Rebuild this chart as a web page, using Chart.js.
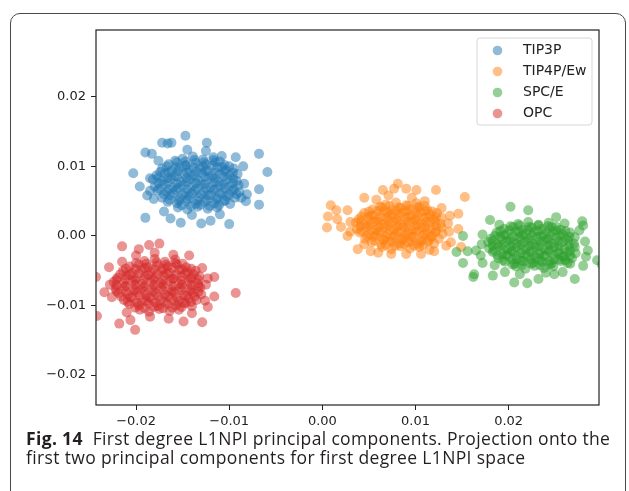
<!DOCTYPE html>
<html>
<head>
<meta charset="utf-8">
<script src="https://cdn.jsdelivr.net/npm/chart.js@4"></script>
<style>
  html, body { margin: 0; padding: 0; background: #fff; overflow: hidden; }
  body { width: 629px; height: 491px; position: relative; }
  #frame {
    position: absolute; left: 10px; top: 13px; width: 616px; height: 600px;
    border: 1.3px solid #4a4a4a; border-radius: 10px; box-sizing: border-box;
  }
  #wrap { position: absolute; left: 0; top: 0; width: 629px; height: 440px; }
  #caption {
    position: absolute; left: 26px; top: 429px; white-space: nowrap;
    font-family: "Open Sans", "Noto Sans", sans-serif; font-size: 17.5px;
    letter-spacing: 0.35px; line-height: 18.5px; color: #231f20;
  }
  #caption b { font-weight: 700; }
</style>
</head>
<body>
<div id="frame"></div>
<div id="wrap"><canvas id="chart"></canvas></div>
<div id="caption"><b>Fig. 14</b>&nbsp; First degree L1NPI principal components. Projection onto the<br>first two principal components for first degree L1NPI space</div>
<script>
// series names and colours (matplotlib tab10)
const CATEGORIES = ["TIP3P", "TIP4P/Ew", "SPC/E", "OPC"];
const COLORS = ["31,119,180", "255,127,14", "44,160,44", "214,39,40"];

// axis ticks
const X_TICKS = [-0.02, -0.01, 0.0, 0.01, 0.02];
const Y_TICKS = [-0.02, -0.01, 0.0, 0.01, 0.02];
const X_MIN = -0.0243, X_MAX = 0.0297;
const Y_MIN = -0.0243, Y_MAX = 0.0296;

// [pc1, pc2]
const TIP3P = [
  [-0.0150,0.0111],[-0.0139,0.0114],[-0.0128,0.0110],[-0.0117,0.0113],
  [-0.0165,0.0103],[-0.0156,0.0106],[-0.0146,0.0102],[-0.0136,0.0105],[-0.0125,0.0103],[-0.0115,0.0106],[-0.0105,0.0102],
  [-0.0172,0.0097],[-0.0162,0.0094],[-0.0153,0.0098],[-0.0143,0.0095],[-0.0132,0.0097],[-0.0123,0.0094],[-0.0113,0.0098],[-0.0104,0.0095],[-0.0095,0.0097],
  [-0.0178,0.0087],[-0.0169,0.0090],[-0.0159,0.0086],[-0.0149,0.0089],[-0.0139,0.0087],[-0.0129,0.0090],[-0.0119,0.0086],[-0.0110,0.0089],[-0.0100,0.0087],[-0.0091,0.0089],
  [-0.0182,0.0081],[-0.0172,0.0079],[-0.0162,0.0082],[-0.0152,0.0078],[-0.0142,0.0081],[-0.0132,0.0079],[-0.0122,0.0082],[-0.0112,0.0078],[-0.0102,0.0081],[-0.0092,0.0079],
  [-0.0180,0.0071],[-0.0170,0.0074],[-0.0160,0.0070],[-0.0150,0.0073],[-0.0140,0.0071],[-0.0130,0.0074],[-0.0120,0.0070],[-0.0110,0.0073],[-0.0100,0.0071],[-0.0090,0.0073],
  [-0.0177,0.0065],[-0.0167,0.0063],[-0.0157,0.0066],[-0.0147,0.0062],[-0.0137,0.0065],[-0.0127,0.0063],[-0.0117,0.0066],[-0.0107,0.0062],[-0.0097,0.0065],[-0.0089,0.0063],
  [-0.0172,0.0055],[-0.0163,0.0058],[-0.0153,0.0054],[-0.0143,0.0057],[-0.0133,0.0055],[-0.0123,0.0058],[-0.0113,0.0054],[-0.0103,0.0057],[-0.0094,0.0055],
  [-0.0166,0.0049],[-0.0156,0.0047],[-0.0146,0.0050],[-0.0136,0.0046],[-0.0126,0.0049],[-0.0116,0.0047],[-0.0106,0.0050],[-0.0099,0.0046],
  [-0.0155,0.0041],[-0.0145,0.0038],[-0.0134,0.0042],[-0.0123,0.0039],[-0.0113,0.0041],
  [-0.0158,0.0108],[-0.0147,0.0107],[-0.0137,0.0109],[-0.0127,0.0106],[-0.0117,0.0109],[-0.0110,0.0107],
  [-0.0167,0.0100],[-0.0157,0.0099],[-0.0147,0.0101],[-0.0138,0.0098],[-0.0128,0.0100],[-0.0118,0.0101],[-0.0108,0.0099],[-0.0100,0.0100],
  [-0.0174,0.0092],[-0.0165,0.0091],[-0.0155,0.0093],[-0.0145,0.0091],[-0.0135,0.0092],[-0.0125,0.0093],[-0.0115,0.0091],[-0.0105,0.0093],[-0.0096,0.0091],
  [-0.0176,0.0084],[-0.0166,0.0083],[-0.0156,0.0085],[-0.0146,0.0083],[-0.0136,0.0084],[-0.0126,0.0085],[-0.0116,0.0083],[-0.0106,0.0085],[-0.0096,0.0083],
  [-0.0176,0.0076],[-0.0166,0.0077],[-0.0156,0.0075],[-0.0146,0.0077],[-0.0136,0.0076],[-0.0126,0.0075],[-0.0116,0.0077],[-0.0106,0.0075],[-0.0096,0.0076],
  [-0.0175,0.0068],[-0.0165,0.0067],[-0.0155,0.0069],[-0.0145,0.0067],[-0.0135,0.0068],[-0.0125,0.0069],[-0.0115,0.0067],[-0.0105,0.0069],[-0.0095,0.0067],
  [-0.0170,0.0060],[-0.0160,0.0061],[-0.0150,0.0059],[-0.0140,0.0061],[-0.0130,0.0060],[-0.0120,0.0059],[-0.0110,0.0061],[-0.0100,0.0059],[-0.0092,0.0060],
  [-0.0164,0.0052],[-0.0154,0.0051],[-0.0144,0.0053],[-0.0134,0.0051],[-0.0124,0.0052],[-0.0114,0.0053],[-0.0104,0.0051],
  [-0.0151,0.0044],[-0.0141,0.0043],[-0.0131,0.0045],[-0.0121,0.0043],[-0.0111,0.0044],
  [-0.0185,0.0083],[-0.0185,0.0065],[-0.0176,0.0108],[-0.0108,0.0115],[-0.0085,0.0100],[-0.0084,0.0075],
  [-0.0087,0.0055],[-0.0170,0.0035],[-0.0140,0.0030],[-0.0110,0.0031],[-0.0125,0.0122],[-0.0145,0.0124],
  [-0.0147,0.0144],[-0.0172,0.0134],[-0.0166,0.0133],[-0.0162,0.0134],[-0.0124,0.0134],[-0.0190,0.0120],
  [-0.0183,0.0118],[-0.0068,0.0118],[-0.0059,0.0092],[-0.0203,0.0090],[-0.0196,0.0071],[-0.0188,0.0058],
  [-0.0181,0.0053],[-0.0068,0.0067],[-0.0068,0.0045],[-0.0190,0.0026],[-0.0163,0.0025],[-0.0152,0.0019],
  [-0.0130,0.0018],[-0.0120,0.0022],[-0.0100,0.0017],[-0.0082,0.0050],[-0.0081,0.0060],[-0.0093,0.0113]
];

const TIP4P_EW = [
  [0.0068,0.0045],[0.0079,0.0048],[0.0090,0.0044],[0.0101,0.0047],
  [0.0054,0.0038],[0.0064,0.0041],[0.0074,0.0037],[0.0084,0.0040],[0.0094,0.0038],[0.0104,0.0041],[0.0113,0.0037],
  [0.0045,0.0033],[0.0055,0.0030],[0.0065,0.0034],[0.0075,0.0031],[0.0085,0.0033],[0.0095,0.0030],[0.0105,0.0034],[0.0115,0.0031],[0.0123,0.0033],
  [0.0039,0.0024],[0.0049,0.0027],[0.0059,0.0023],[0.0069,0.0026],[0.0079,0.0024],[0.0089,0.0027],[0.0099,0.0023],[0.0109,0.0026],[0.0119,0.0024],[0.0128,0.0026],
  [0.0036,0.0019],[0.0046,0.0016],[0.0056,0.0020],[0.0066,0.0017],[0.0076,0.0019],[0.0086,0.0016],[0.0096,0.0020],[0.0106,0.0017],[0.0116,0.0019],[0.0127,0.0017],
  [0.0037,0.0010],[0.0047,0.0013],[0.0057,0.0009],[0.0067,0.0012],[0.0077,0.0010],[0.0087,0.0013],[0.0097,0.0009],[0.0107,0.0012],[0.0117,0.0010],[0.0128,0.0012],
  [0.0040,0.0005],[0.0050,0.0002],[0.0060,0.0006],[0.0070,0.0003],[0.0080,0.0005],[0.0090,0.0002],[0.0100,0.0006],[0.0110,0.0003],[0.0121,0.0005],[0.0129,0.0003],
  [0.0046,-0.0004],[0.0056,-0.0001],[0.0066,-0.0005],[0.0076,-0.0002],[0.0086,-0.0004],[0.0096,-0.0001],[0.0106,-0.0005],[0.0116,-0.0002],[0.0125,-0.0004],
  [0.0053,-0.0009],[0.0063,-0.0012],[0.0073,-0.0008],[0.0083,-0.0011],[0.0093,-0.0009],[0.0103,-0.0012],[0.0113,-0.0008],[0.0120,-0.0011],
  [0.0064,-0.0016],[0.0074,-0.0019],[0.0084,-0.0015],[0.0094,-0.0018],[0.0104,-0.0016],
  [0.0062,0.0042],[0.0072,0.0043],[0.0082,0.0041],[0.0092,0.0043],[0.0102,0.0042],[0.0110,0.0043],
  [0.0050,0.0035],[0.0060,0.0036],[0.0070,0.0034],[0.0080,0.0036],[0.0090,0.0035],[0.0100,0.0034],[0.0110,0.0036],[0.0118,0.0035],
  [0.0042,0.0028],[0.0052,0.0029],[0.0062,0.0027],[0.0072,0.0029],[0.0082,0.0028],[0.0092,0.0027],[0.0102,0.0029],[0.0112,0.0027],[0.0122,0.0028],
  [0.0041,0.0021],[0.0051,0.0022],[0.0061,0.0020],[0.0071,0.0022],[0.0081,0.0021],[0.0091,0.0020],[0.0101,0.0022],[0.0111,0.0020],[0.0121,0.0021],
  [0.0041,0.0014],[0.0051,0.0015],[0.0061,0.0013],[0.0071,0.0015],[0.0081,0.0014],[0.0091,0.0013],[0.0101,0.0015],[0.0111,0.0013],[0.0122,0.0014],
  [0.0042,0.0007],[0.0052,0.0008],[0.0062,0.0006],[0.0072,0.0008],[0.0082,0.0007],[0.0092,0.0006],[0.0102,0.0008],[0.0112,0.0006],[0.0122,0.0007],
  [0.0048,0.0000],[0.0058,0.0001],[0.0068,-0.0001],[0.0078,0.0001],[0.0088,0.0000],[0.0098,-0.0001],[0.0108,0.0001],[0.0118,0.0000],
  [0.0056,-0.0007],[0.0066,-0.0006],[0.0076,-0.0008],[0.0086,-0.0006],[0.0096,-0.0007],[0.0106,-0.0008],[0.0115,-0.0006],
  [0.0068,-0.0013],[0.0078,-0.0014],[0.0088,-0.0012],[0.0098,-0.0014],[0.0108,-0.0013],
  [0.0058,0.0052],[0.0096,0.0055],[0.0110,0.0050],[0.0030,0.0020],[0.0030,0.0006],[0.0135,0.0018],
  [0.0136,0.0006],[0.0045,-0.0012],[0.0060,-0.0024],[0.0115,-0.0020],[0.0071,0.0058],[0.0128,0.0040],
  [0.0081,0.0075],[0.0065,0.0066],[0.0077,0.0068],[0.0090,0.0068],[0.0101,0.0066],[0.0122,0.0066],
  [0.0153,0.0056],[0.0045,0.0055],[0.0009,0.0044],[0.0015,0.0037],[0.0027,0.0037],[0.0006,0.0028],
  [0.0005,0.0012],[0.0016,0.0024],[0.0020,0.0013],[0.0027,0.0000],[0.0038,-0.0019],[0.0052,-0.0022],
  [0.0074,-0.0026],[0.0090,-0.0026],[0.0106,-0.0026],[0.0120,-0.0022],[0.0137,0.0029],[0.0146,0.0032],
  [0.0146,0.0010],[0.0138,-0.0009],[0.0149,-0.0016],[0.0133,-0.0014]
];

const SPC_E = [
  [0.0210,0.0017],[0.0221,0.0020],[0.0232,0.0016],[0.0243,0.0019],
  [0.0195,0.0010],[0.0205,0.0013],[0.0215,0.0009],[0.0225,0.0012],[0.0236,0.0010],[0.0246,0.0013],[0.0256,0.0009],
  [0.0187,0.0005],[0.0197,0.0002],[0.0207,0.0006],[0.0217,0.0003],[0.0227,0.0005],[0.0237,0.0002],[0.0247,0.0006],[0.0257,0.0003],[0.0266,0.0005],
  [0.0181,-0.0004],[0.0191,-0.0001],[0.0201,-0.0005],[0.0211,-0.0002],[0.0221,-0.0004],[0.0231,-0.0001],[0.0241,-0.0005],[0.0251,-0.0002],[0.0261,-0.0004],[0.0271,-0.0002],
  [0.0178,-0.0009],[0.0188,-0.0012],[0.0198,-0.0008],[0.0208,-0.0011],[0.0218,-0.0009],[0.0228,-0.0012],[0.0238,-0.0008],[0.0248,-0.0011],[0.0258,-0.0009],[0.0270,-0.0011],
  [0.0179,-0.0018],[0.0189,-0.0015],[0.0199,-0.0019],[0.0209,-0.0016],[0.0219,-0.0018],[0.0229,-0.0015],[0.0239,-0.0019],[0.0249,-0.0016],[0.0260,-0.0018],[0.0271,-0.0016],
  [0.0183,-0.0023],[0.0193,-0.0026],[0.0203,-0.0022],[0.0213,-0.0025],[0.0223,-0.0023],[0.0233,-0.0026],[0.0243,-0.0022],[0.0253,-0.0025],[0.0263,-0.0023],[0.0272,-0.0025],
  [0.0189,-0.0032],[0.0199,-0.0029],[0.0209,-0.0033],[0.0219,-0.0030],[0.0229,-0.0032],[0.0239,-0.0029],[0.0249,-0.0033],[0.0259,-0.0030],[0.0268,-0.0032],
  [0.0196,-0.0037],[0.0206,-0.0040],[0.0216,-0.0036],[0.0226,-0.0039],[0.0236,-0.0037],[0.0246,-0.0040],[0.0256,-0.0036],[0.0263,-0.0039],
  [0.0208,-0.0044],[0.0218,-0.0047],[0.0228,-0.0043],[0.0238,-0.0046],[0.0248,-0.0044],
  [0.0202,0.0014],[0.0212,0.0015],[0.0222,0.0013],[0.0232,0.0015],[0.0242,0.0014],[0.0251,0.0013],
  [0.0191,0.0007],[0.0201,0.0008],[0.0211,0.0006],[0.0221,0.0008],[0.0231,0.0007],[0.0241,0.0006],[0.0251,0.0008],[0.0261,0.0007],
  [0.0185,0.0000],[0.0195,0.0001],[0.0205,-0.0001],[0.0215,0.0001],[0.0225,0.0000],[0.0235,-0.0001],[0.0245,0.0001],[0.0255,0.0000],[0.0265,-0.0001],
  [0.0183,-0.0007],[0.0193,-0.0006],[0.0203,-0.0008],[0.0213,-0.0006],[0.0223,-0.0007],[0.0233,-0.0008],[0.0243,-0.0006],[0.0253,-0.0008],[0.0264,-0.0007],
  [0.0183,-0.0014],[0.0193,-0.0013],[0.0203,-0.0015],[0.0213,-0.0013],[0.0223,-0.0014],[0.0233,-0.0015],[0.0243,-0.0013],[0.0254,-0.0015],[0.0265,-0.0014],
  [0.0184,-0.0021],[0.0194,-0.0020],[0.0204,-0.0022],[0.0214,-0.0020],[0.0224,-0.0021],[0.0234,-0.0022],[0.0244,-0.0020],[0.0254,-0.0022],[0.0266,-0.0021],
  [0.0188,-0.0028],[0.0198,-0.0027],[0.0208,-0.0029],[0.0218,-0.0027],[0.0228,-0.0028],[0.0238,-0.0029],[0.0248,-0.0027],[0.0258,-0.0029],[0.0266,-0.0028],
  [0.0194,-0.0035],[0.0204,-0.0034],[0.0214,-0.0036],[0.0224,-0.0034],[0.0234,-0.0035],[0.0244,-0.0036],[0.0254,-0.0034],[0.0261,-0.0035],
  [0.0204,-0.0041],[0.0214,-0.0042],[0.0224,-0.0040],[0.0234,-0.0042],[0.0244,-0.0041],
  [0.0190,0.0016],[0.0260,0.0018],[0.0276,0.0008],[0.0172,0.0002],[0.0170,-0.0028],[0.0282,-0.0008],
  [0.0283,-0.0030],[0.0185,-0.0042],[0.0212,-0.0055],[0.0240,-0.0053],[0.0300,-0.0041],[0.0303,-0.0036],
  [0.0202,0.0042],[0.0221,0.0037],[0.0180,0.0023],[0.0279,0.0021],[0.0280,0.0015],[0.0251,0.0027],
  [0.0151,0.0000],[0.0144,-0.0023],[0.0156,-0.0022],[0.0165,-0.0021],[0.0171,-0.0012],[0.0285,-0.0021],
  [0.0295,-0.0035],[0.0280,-0.0043],[0.0151,-0.0039],[0.0172,-0.0039],[0.0163,-0.0055],[0.0162,-0.0059],
  [0.0183,-0.0057],[0.0196,-0.0052],[0.0206,-0.0067],[0.0220,-0.0068],[0.0232,-0.0062],[0.0249,-0.0055],
  [0.0258,-0.0052],[0.0271,-0.0062],[0.0266,-0.0040]
];

const OPC = [
  [-0.0191,-0.0036],[-0.0180,-0.0033],[-0.0169,-0.0037],[-0.0158,-0.0034],
  [-0.0207,-0.0044],[-0.0197,-0.0041],[-0.0187,-0.0045],[-0.0177,-0.0042],[-0.0166,-0.0044],[-0.0156,-0.0041],[-0.0146,-0.0045],
  [-0.0214,-0.0050],[-0.0204,-0.0053],[-0.0194,-0.0049],[-0.0184,-0.0052],[-0.0173,-0.0050],[-0.0164,-0.0053],[-0.0154,-0.0049],[-0.0145,-0.0052],[-0.0136,-0.0050],
  [-0.0220,-0.0060],[-0.0210,-0.0057],[-0.0200,-0.0061],[-0.0190,-0.0058],[-0.0180,-0.0060],[-0.0170,-0.0057],[-0.0160,-0.0061],[-0.0151,-0.0058],[-0.0141,-0.0060],[-0.0132,-0.0058],
  [-0.0224,-0.0066],[-0.0214,-0.0068],[-0.0204,-0.0065],[-0.0194,-0.0069],[-0.0184,-0.0066],[-0.0174,-0.0068],[-0.0164,-0.0065],[-0.0154,-0.0069],[-0.0144,-0.0066],[-0.0134,-0.0068],
  [-0.0222,-0.0076],[-0.0212,-0.0073],[-0.0202,-0.0077],[-0.0192,-0.0074],[-0.0182,-0.0076],[-0.0172,-0.0073],[-0.0162,-0.0077],[-0.0152,-0.0074],[-0.0142,-0.0076],[-0.0131,-0.0074],
  [-0.0219,-0.0082],[-0.0209,-0.0084],[-0.0199,-0.0081],[-0.0189,-0.0085],[-0.0179,-0.0082],[-0.0169,-0.0084],[-0.0159,-0.0081],[-0.0149,-0.0085],[-0.0139,-0.0082],[-0.0130,-0.0084],
  [-0.0213,-0.0092],[-0.0204,-0.0089],[-0.0194,-0.0093],[-0.0184,-0.0090],[-0.0174,-0.0092],[-0.0164,-0.0089],[-0.0154,-0.0093],[-0.0144,-0.0090],[-0.0135,-0.0092],
  [-0.0207,-0.0098],[-0.0197,-0.0100],[-0.0187,-0.0097],[-0.0177,-0.0101],[-0.0167,-0.0098],[-0.0157,-0.0100],[-0.0147,-0.0097],[-0.0140,-0.0101],
  [-0.0196,-0.0106],[-0.0186,-0.0109],[-0.0175,-0.0105],[-0.0164,-0.0108],[-0.0154,-0.0106],
  [-0.0200,-0.0039],[-0.0189,-0.0040],[-0.0178,-0.0038],[-0.0168,-0.0041],[-0.0158,-0.0039],[-0.0150,-0.0040],
  [-0.0211,-0.0047],[-0.0201,-0.0048],[-0.0191,-0.0046],[-0.0181,-0.0048],[-0.0171,-0.0047],[-0.0161,-0.0046],[-0.0151,-0.0048],[-0.0141,-0.0047],
  [-0.0217,-0.0055],[-0.0207,-0.0056],[-0.0197,-0.0054],[-0.0187,-0.0056],[-0.0177,-0.0055],[-0.0167,-0.0054],[-0.0157,-0.0056],[-0.0147,-0.0054],[-0.0138,-0.0055],
  [-0.0221,-0.0063],[-0.0211,-0.0062],[-0.0201,-0.0064],[-0.0191,-0.0062],[-0.0181,-0.0063],[-0.0171,-0.0064],[-0.0161,-0.0062],[-0.0151,-0.0064],[-0.0141,-0.0062],[-0.0133,-0.0063],
  [-0.0221,-0.0071],[-0.0211,-0.0072],[-0.0201,-0.0070],[-0.0191,-0.0072],[-0.0181,-0.0071],[-0.0171,-0.0070],[-0.0161,-0.0072],[-0.0151,-0.0070],[-0.0141,-0.0071],[-0.0133,-0.0072],
  [-0.0221,-0.0079],[-0.0211,-0.0080],[-0.0201,-0.0078],[-0.0191,-0.0080],[-0.0181,-0.0079],[-0.0171,-0.0078],[-0.0161,-0.0080],[-0.0151,-0.0078],[-0.0141,-0.0079],[-0.0133,-0.0080],
  [-0.0216,-0.0087],[-0.0206,-0.0088],[-0.0196,-0.0086],[-0.0186,-0.0088],[-0.0176,-0.0087],[-0.0166,-0.0086],[-0.0156,-0.0088],[-0.0146,-0.0086],[-0.0137,-0.0087],
  [-0.0209,-0.0095],[-0.0199,-0.0096],[-0.0189,-0.0094],[-0.0179,-0.0096],[-0.0169,-0.0095],[-0.0159,-0.0094],[-0.0149,-0.0096],[-0.0141,-0.0095],
  [-0.0201,-0.0103],[-0.0191,-0.0104],[-0.0181,-0.0102],[-0.0171,-0.0104],[-0.0161,-0.0103],[-0.0151,-0.0102],
  [-0.0228,-0.0070],[-0.0226,-0.0088],[-0.0215,-0.0037],[-0.0200,-0.0028],[-0.0160,-0.0027],[-0.0125,-0.0070],
  [-0.0126,-0.0093],[-0.0185,-0.0116],[-0.0210,-0.0110],[-0.0140,-0.0111],[-0.0180,-0.0024],[-0.0123,-0.0061],
  [-0.0175,-0.0011],[-0.0186,-0.0013],[-0.0215,-0.0015],[-0.0197,-0.0019],[-0.0243,-0.0059],[-0.0093,-0.0082],
  [-0.0116,-0.0059],[-0.0129,-0.0046],[-0.0116,-0.0087],[-0.0123,-0.0102],[-0.0242,-0.0115],[-0.0218,-0.0126],
  [-0.0201,-0.0135],[-0.0206,-0.0121],[-0.0165,-0.0119],[-0.0149,-0.0123],[-0.0129,-0.0124],[-0.0234,-0.0081],
  [-0.0229,-0.0045],[-0.0143,-0.0028]
];

const SERIES = [TIP3P, TIP4P_EW, SPC_E, OPC];

const fmt = (v) => {
  const s = Math.abs(v).toFixed(2);
  return v < -1e-9 ? "\u2212" + s : s;
};

// frame on all four sides plus a matplotlib-like legend inside the axes
const axesBox = {
  id: "axesBox",
  afterDatasetsDraw(chart) {
    const { ctx, chartArea: a } = chart;
    ctx.save();
    ctx.strokeStyle = "#222";
    ctx.lineWidth = 1.2;
    ctx.strokeRect(a.left, a.top, a.right - a.left, a.bottom - a.top);

    const w = 115, h = 87;
    const lx = a.right - 7 - w, ly = a.top + 8;
    ctx.beginPath();
    ctx.roundRect(lx, ly, w, h, 3);
    ctx.fillStyle = "rgba(255,255,255,0.8)";
    ctx.fill();
    ctx.strokeStyle = "#d6d6d6";
    ctx.lineWidth = 1;
    ctx.stroke();

    ctx.font = '14px "DejaVu Sans"';
    ctx.textBaseline = "middle";
    chart.data.datasets.forEach((ds, i) => {
      const y = ly + 12.5 + i * 21;
      ctx.beginPath();
      ctx.arc(lx + 20.5, y, 4.8, 0, Math.PI * 2);
      ctx.fillStyle = ds.backgroundColor;
      ctx.fill();
      ctx.fillStyle = "#222";
      ctx.fillText(ds.label, lx + 46, y);
    });
    ctx.restore();
  }
};

new Chart(document.getElementById("chart"), {
  type: "scatter",
  data: {
    datasets: SERIES.map((pts, i) => ({
      label: CATEGORIES[i],
      data: pts.map(([x, y]) => ({ x, y })),
      backgroundColor: "rgba(" + COLORS[i] + ",0.5)",
      borderWidth: 0,
      pointRadius: 5,
      pointHoverRadius: 5,
      clip: 0,
      order: SERIES.length - i
    }))
  },
  options: {
    responsive: true,
    maintainAspectRatio: false,
    animation: false,
    events: [],
    layout: { padding: { top: 30, right: 30, left: 0, bottom: 0 } },
    plugins: { legend: { display: false }, tooltip: { enabled: false } },
    scales: {
      x: {
        type: "linear",
        min: X_MIN,
        max: X_MAX,
        afterBuildTicks: (s) => { s.ticks = X_TICKS.map((v) => ({ value: v })); },
        afterFit: (s) => { s.height = 35; },
        border: { display: false },
        grid: { display: true, drawOnChartArea: false, drawTicks: true, tickLength: 5, color: "#222", tickWidth: 1 },
        ticks: {
          padding: 4,
          color: "#222",
          font: { family: "DejaVu Sans", size: 13 },
          callback: (v) => fmt(v),
          maxRotation: 0
        }
      },
      y: {
        type: "linear",
        min: Y_MIN,
        max: Y_MAX,
        afterBuildTicks: (s) => { s.ticks = Y_TICKS.map((v) => ({ value: v })); },
        afterFit: (s) => { s.width = 96; },
        border: { display: false },
        grid: { display: true, drawOnChartArea: false, drawTicks: true, tickLength: 5, color: "#222", tickWidth: 1 },
        ticks: {
          padding: 5,
          color: "#222",
          font: { family: "DejaVu Sans", size: 13 },
          callback: (v) => fmt(v)
        }
      }
    }
  },
  plugins: [axesBox]
});
</script>
</body>
</html>
